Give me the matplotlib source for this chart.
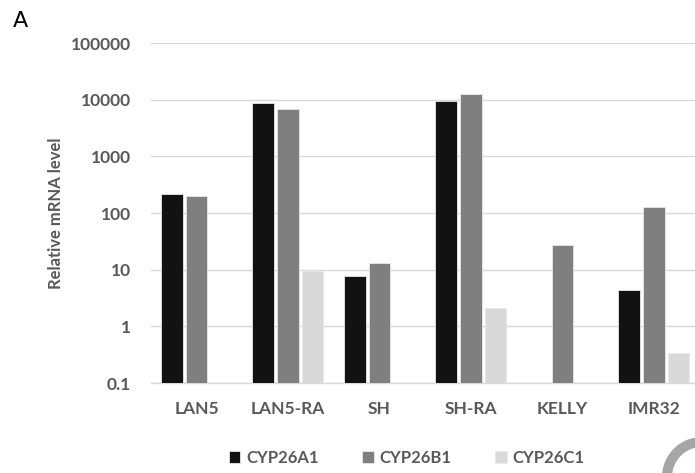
import numpy as np
import matplotlib
matplotlib.use('Agg')
import matplotlib.pyplot as plt
from matplotlib.patches import Wedge
from matplotlib.transforms import IdentityTransform
from matplotlib.ticker import FixedLocator, NullLocator

# relative mRNA levels per cell line (nan = not detected)
cell_lines = ['LAN5', 'LAN5-RA', 'SH', 'SH-RA', 'KELLY', 'IMR32']
cyp26a1 = [216, 8850, 7.8, 9600, np.nan, 4.4]
cyp26b1 = [200, 6900, 13.1, 12400, 27, 129]
cyp26c1 = [np.nan, 9.4, np.nan, 2.1, np.nan, 0.34]
series = ['CYP26A1', 'CYP26B1', 'CYP26C1']
colours = ['#121212', '#7f7f7f', '#d9d9d9']
ytick_vals = [0.1, 1, 10, 100, 1000, 10000, 100000]
ytick_text = ['0.1', '1', '10', '100', '1000', '10000', '100000']

txt_col = '#595959'
font = 'Lato'
base = 0.1

fig = plt.figure(figsize=(6.95, 4.73), dpi=100)
ax = fig.add_axes([0.2169, 0.190, 0.7899, 0.719])

x = np.arange(len(cell_lines))
width = 0.24
step = 0.268
for k, (vals, col, name) in enumerate(zip([cyp26a1, cyp26b1, cyp26c1],
                                          colours, series)):
    heights = np.asarray(vals, dtype=float) - base
    ax.bar(x + (k - 1) * step, heights, width=width, bottom=base, color=col,
           edgecolor='#e8e8e8', linewidth=0.6, label=name, zorder=3)

ax.set_yscale('log')
ax.set_ylim(0.1, 100000)
ax.set_xlim(-0.5, 5.5)
ax.yaxis.set_major_locator(FixedLocator(ytick_vals))
ax.yaxis.set_minor_locator(NullLocator())
ax.set_yticklabels(ytick_text)
ax.set_xticks(x)
ax.set_xticklabels(cell_lines)
ax.grid(axis='y', color='#d9d9d9', linewidth=1.0, zorder=0)
for s in ['top', 'right', 'left']:
    ax.spines[s].set_visible(False)
ax.spines['bottom'].set_color('#d9d9d9')
ax.spines['bottom'].set_linewidth(1.0)
ax.tick_params(axis='both', length=0, colors=txt_col)
ax.tick_params(axis='y', pad=14)
ax.tick_params(axis='x', pad=13)
for lab in ax.get_yticklabels() + ax.get_xticklabels():
    lab.set_fontfamily(font)
    lab.set_fontweight('bold')
    lab.set_fontsize(12.5)

ax.set_ylabel('Relative mRNA level', fontfamily=font, fontweight='bold',
              fontsize=12, color=txt_col, labelpad=5)

leg = fig.legend(loc='center', bbox_to_anchor=(0.585, 1 - 458 / 473),
                 ncol=3, frameon=False, handlelength=0.7, handleheight=0.7,
                 handletextpad=0.35, columnspacing=2.6,
                 prop={'family': font, 'weight': 'bold', 'size': 12})
for t in leg.get_texts():
    t.set_color(txt_col)

fig.text(0.018, 1 - 21 / 473, 'A', fontsize=16, color='black',
         fontfamily='DejaVu Sans', va='center')

# partial grey ring in the lower right corner
ring = Wedge((702, -4), 40, 90, 180, width=10, facecolor='#a6a6a6',
             edgecolor='none', transform=IdentityTransform())
fig.patches.append(ring)

fig.savefig('out.png', dpi=100)
